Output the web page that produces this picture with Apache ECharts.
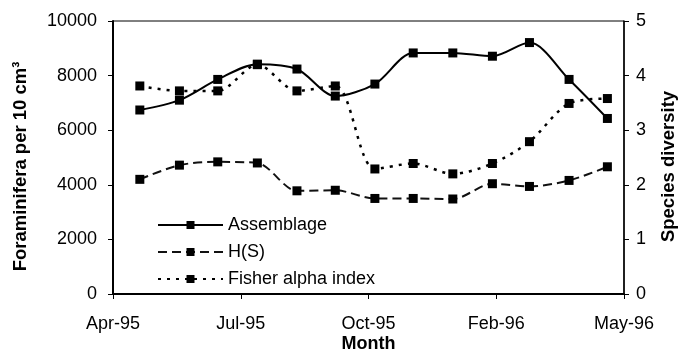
<!DOCTYPE html>
<html><head><meta charset="utf-8">
<script src="https://cdn.jsdelivr.net/npm/echarts@6/dist/echarts.min.js"></script>
<style>html,body{margin:0;padding:0;background:#fff}#c{width:678px;height:355px}</style>
</head><body><div id="c"></div>
<script>
// axis starts on this date; ticks every 100 days
var axisStart = '1995-04-10';
var tickLabels = ['Apr-95', 'Jul-95', 'Oct-95', 'Feb-96', 'May-96'];
var sampleDates = ['1995-05-01','1995-06-01','1995-07-01','1995-08-01','1995-09-01','1995-10-01','1995-11-01','1995-12-01','1996-01-01','1996-02-01','1996-03-01','1996-04-01','1996-05-01'];
var assemblage = [6740, 7100, 7860, 8420, 8240, 7250, 7690, 8830, 8830, 8710, 9210, 7860, 6430];
var hs = [2.10, 2.36, 2.42, 2.40, 1.89, 1.90, 1.75, 1.75, 1.74, 2.02, 1.97, 2.08, 2.33];
var fisher = [3.81, 3.72, 3.72, 4.20, 3.72, 3.81, 2.29, 2.39, 2.20, 2.39, 2.79, 3.49, 3.58];

function dayOffset(d) {
  var a = axisStart.split('-').map(Number), b = d.split('-').map(Number);
  return (Date.UTC(b[0], b[1]-1, b[2]) - Date.UTC(a[0], a[1]-1, a[2])) / 86400000;
}
function pairs(vals) { return vals.map(function(v, i){ return [dayOffset(sampleDates[i]), v]; }); }

var font = 'Liberation Sans, Arial, sans-serif';
var chart = echarts.init(document.getElementById('c'));
chart.setOption({
  animation: false,
  grid: {left: 113, right: 54, top: 21, bottom: 61, show: true, borderColor: '#000', borderWidth: 1,
         containLabel: false, outerBoundsMode: 'none'},
  legend: {
    orient: 'vertical', left: 157, top: 215, padding: 0, itemWidth: 65, itemHeight: 10, itemGap: 7,
    textStyle: {fontFamily: font, fontSize: 18, color: '#000', lineHeight: 20},
    data: ['Assemblage', 'H(S)', 'Fisher alpha index']
  },
  xAxis: {
    type: 'value', min: 0, max: 400, interval: 100,
    name: 'Month', nameLocation: 'middle', nameGap: 41, nameMoveOverlap: false,
    nameTextStyle: {fontFamily: font, fontSize: 18, fontWeight: 'bold', color: '#000'},
    axisLine: {lineStyle: {color: '#000', width: 2}},
    axisTick: {show: true, length: 5, lineStyle: {color: '#000', width: 1}},
    axisLabel: {margin: 21, fontFamily: font, fontSize: 18, color: '#000',
      formatter: function(v){ return tickLabels[Math.round(v/100)] || ''; }},
    splitLine: {show: false}
  },
  yAxis: [{
    type: 'value', min: 0, max: 10000, interval: 2000,
    name: 'Foraminifera per 10 cm³', nameLocation: 'middle', nameGap: 83, nameRotate: 90, nameMoveOverlap: false,
    nameTextStyle: {fontFamily: font, fontSize: 18.5, fontWeight: 'bold', color: '#000', padding: [0, 18, 0, 0]},
    axisLine: {show: true, lineStyle: {color: '#000', width: 2}},
    axisTick: {show: true, length: 5, lineStyle: {color: '#000'}},
    axisLabel: {margin: 16, fontFamily: font, fontSize: 18, color: '#000',
      formatter: function(v){ return String(v); }},
    splitLine: {show: false}
  }, {
    type: 'value', min: 0, max: 5, interval: 1, position: 'right',
    name: 'Species diversity', nameLocation: 'middle', nameGap: 35, nameRotate: 90, nameMoveOverlap: false,
    nameTextStyle: {fontFamily: font, fontSize: 18.5, fontWeight: 'bold', color: '#000', padding: [0, 18, 0, 0]},
    axisLine: {show: true, lineStyle: {color: '#000', width: 1.5}},
    axisTick: {show: true, length: 5, lineStyle: {color: '#000'}},
    axisLabel: {margin: 12, fontFamily: font, fontSize: 18, color: '#000'},
    splitLine: {show: false}
  }],
  series: [{
    name: 'Assemblage', type: 'line', yAxisIndex: 0, data: pairs(assemblage),
    smooth: 0.3, symbol: 'rect', symbolSize: 9,
    lineStyle: {color: '#000', width: 2}, itemStyle: {color: '#000'}
  }, {
    name: 'H(S)', type: 'line', yAxisIndex: 1, data: pairs(hs),
    smooth: 0.3, symbol: 'rect', symbolSize: 9,
    lineStyle: {color: '#111', width: 2, type: [9, 5]}, itemStyle: {color: '#000'}
  }, {
    name: 'Fisher alpha index', type: 'line', yAxisIndex: 1, data: pairs(fisher),
    smooth: 0.3, symbol: 'rect', symbolSize: 9,
    lineStyle: {color: '#000', width: 2.5, type: [3, 6]}, itemStyle: {color: '#000'}
  }]
});
</script></body></html>
